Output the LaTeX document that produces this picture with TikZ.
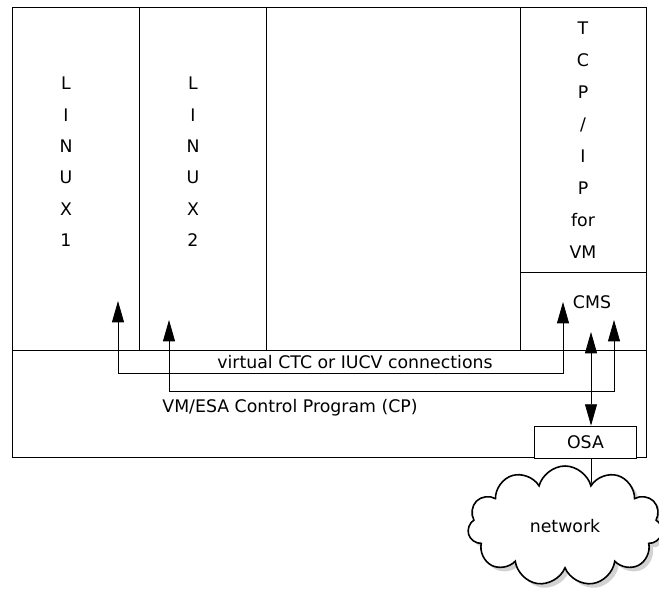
\documentclass[tikz,border=0pt]{standalone}
\usepackage{fontspec}
\setmainfont{DejaVu Sans}
\usetikzlibrary{arrows.meta,shapes.symbols,shadows,backgrounds}

\begin{document}
\begin{tikzpicture}[x=0.75pt,y=-0.75pt,line width=0.6pt,
  lbl/.style={font=\fontsize{13}{15}\selectfont},
  vert/.style={align=center,font=\fontsize{13}{23.5}\selectfont},
  conn/.style={{Triangle[length=16pt,width=9pt]}-{Triangle[length=16pt,width=9pt]}}]
\useasboundingbox (0,0) rectangle (659,588);
% guest machines
\draw (12,7) rectangle (646,350);
\foreach \x in {139,266,520}{
	\draw (\x,7) -- (\x,350);
}
\draw (520,272) -- (646,272);
% control program
\draw (12,350) rectangle (646,457);
\node[vert] (linux1) at (66,162) {L\\I\\N\\U\\X\\1};
\node[vert] (linux2) at (193,162) {L\\I\\N\\U\\X\\2};
\node[vert,font=\fontsize{13}{24}\selectfont] (tcpip) at (583,140) {T\\C\\P\\/\\I\\P\\for\\VM};
\node[lbl] (cms) at (592,302) {CMS};
\node[lbl] (ctc) at (355,362) {virtual CTC or IUCV connections};
\node[lbl] (cp) at (290,408) {VM/ESA Control Program (CP)};
\node[lbl,draw,fill=white,minimum width=77pt,minimum height=24pt] (osa) at (585.5,442) {OSA};
\node[lbl,cloud,cloud puffs=11,aspect=1.6,draw,line width=1.2pt,fill=white,minimum width=146pt,minimum height=90pt,
  drop shadow={shadow xshift=3pt,shadow yshift=-3pt,fill=gray!70}] (net) at (565,526) {network};
% connections
\coordinate (l1) at (118,301);
\coordinate (l2) at (169,320);
\coordinate (c1) at (563,302);
\coordinate (c2) at (614,320);
\coordinate (c3) at (591,332);
\draw[conn] (l1) -- ++(0,72) -| (c1);
\draw[conn] (l2) -- ++(0,71) -| (c2);
\draw[conn] (c3) -- (c3 |- osa.north);
\begin{pgfonlayer}{background}
\draw (c3 |- osa.south) -- (c3 |- net.center);
\end{pgfonlayer}
\end{tikzpicture}
\end{document}
